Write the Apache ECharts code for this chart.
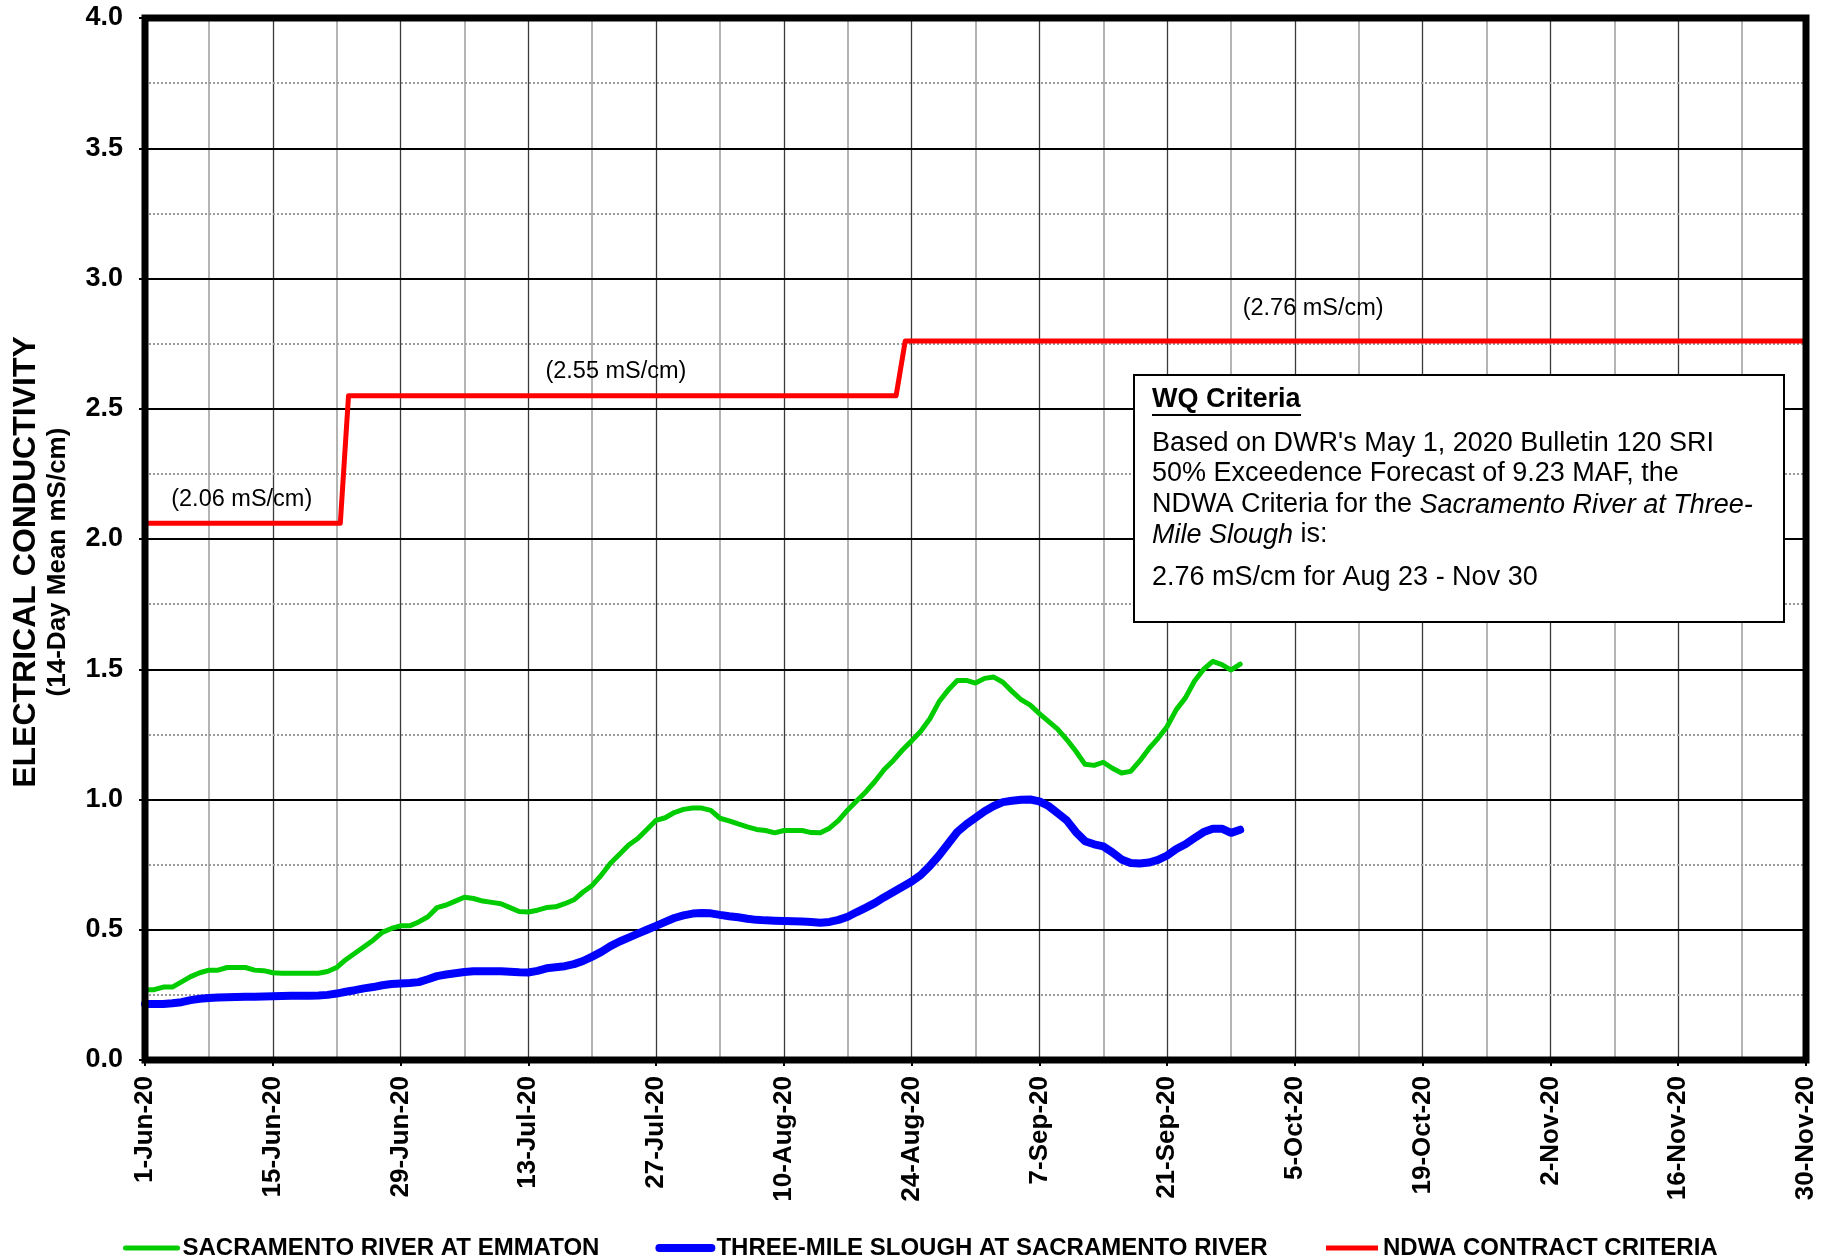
<!DOCTYPE html>
<html><head><meta charset="utf-8">
<script src="https://cdn.jsdelivr.net/npm/echarts@6/dist/echarts.min.js"></script>
<style>html,body{margin:0;padding:0;background:#fff}#c{width:1827px;height:1258px}</style>
</head><body><div id="c"></div>
<script>
// x axis: day number counted from 1-Jun-2020 (day 0) to 30-Nov-2020 (day 182)
const xTickLabels = ['1-Jun-20','15-Jun-20','29-Jun-20','13-Jul-20','27-Jul-20','10-Aug-20','24-Aug-20',
  '7-Sep-20','21-Sep-20','5-Oct-20','19-Oct-20','2-Nov-20','16-Nov-20','30-Nov-20'];
const yTickLabels = ['0.0','0.5','1.0','1.5','2.0','2.5','3.0','3.5','4.0'];

// daily 14-day mean EC (mS/cm), 1-Jun-20 .. 29-Sep-20
const emmaton = [
0.27,0.27,0.28,0.28,0.30,0.32,0.335,0.345,0.345,0.355,
0.355,0.355,0.345,0.343,0.335,0.333,0.333,0.333,0.333,0.333,
0.34,0.355,0.385,0.41,0.435,0.46,0.49,0.505,0.515,0.515,
0.53,0.55,0.585,0.595,0.61,0.625,0.62,0.61,0.605,0.60,
0.585,0.57,0.568,0.575,0.585,0.588,0.60,0.615,0.645,0.67,
0.71,0.755,0.79,0.825,0.85,0.885,0.92,0.93,0.95,0.962,
0.967,0.967,0.958,0.928,0.918,0.906,0.895,0.885,0.881,0.872,
0.881,0.881,0.881,0.873,0.872,0.89,0.92,0.96,0.995,1.03,
1.07,1.115,1.15,1.19,1.225,1.262,1.31,1.375,1.42,1.457,
1.457,1.447,1.465,1.47,1.45,1.415,1.383,1.362,1.33,1.30,
1.27,1.23,1.185,1.135,1.131,1.143,1.12,1.102,1.108,1.148,
1.195,1.235,1.28,1.345,1.39,1.455,1.50,1.53,1.518,1.497,
1.52];
const threeMile = [
0.215,0.215,0.215,0.218,0.222,0.23,0.235,0.238,0.24,0.241,
0.242,0.243,0.243,0.244,0.245,0.246,0.247,0.247,0.247,0.248,
0.25,0.255,0.262,0.268,0.275,0.28,0.287,0.292,0.294,0.296,
0.299,0.31,0.322,0.328,0.333,0.338,0.341,0.341,0.341,0.341,
0.339,0.337,0.336,0.342,0.352,0.356,0.36,0.368,0.38,0.397,
0.415,0.437,0.455,0.47,0.485,0.5,0.515,0.53,0.545,0.555,
0.562,0.564,0.563,0.557,0.552,0.548,0.542,0.538,0.536,0.535,
0.534,0.533,0.532,0.53,0.527,0.53,0.538,0.55,0.568,0.585,
0.603,0.625,0.645,0.665,0.685,0.71,0.745,0.785,0.83,0.875,
0.905,0.93,0.955,0.975,0.99,0.995,0.999,1.0,0.993,0.975,
0.948,0.92,0.875,0.84,0.828,0.82,0.797,0.77,0.756,0.754,
0.758,0.768,0.785,0.81,0.828,0.852,0.875,0.888,0.888,0.872,
0.884];
// NDWA contract criteria steps (day, value)
const criteriaDays = [0, 21.4, 22.3, 82.3, 83.3, 182];
const criteriaValues = [2.06, 2.06, 2.55, 2.55, 2.76, 2.76];

const seriesNames = ['SACRAMENTO RIVER AT EMMATON', 'THREE-MILE SLOUGH AT SACRAMENTO RIVER', 'NDWA CONTRACT CRITERIA'];

const F = "'Liberation Sans', Arial, Helvetica, sans-serif";
const chart = echarts.init(document.getElementById('c'), null, {renderer: 'canvas'});

const option = {
  animation: false,
  backgroundColor: '#fff',
  grid: {left: 145, right: 21, top: 18, bottom: 198, show: true, borderColor: '#000', borderWidth: 7, z: 10},
  xAxis: [{
    type: 'value', min: 0, max: 182, interval: 14, position: 'bottom',
    axisLine: {show: false},
    axisTick: {show: true, length: 6, lineStyle: {color: '#000', width: 2}},
    axisLabel: {rotate: 90, margin: 16, color: '#000', fontFamily: F, fontWeight: 'bold', fontSize: 26,
      formatter: v => xTickLabels[Math.round(v / 14)] || ''},
    splitLine: {show: true, lineStyle: {color: '#3a3a3a', width: 1.3}},
    z: 1
  }, {
    type: 'value', min: 0, max: 182, interval: 7, position: 'bottom',
    axisLine: {show: false}, axisTick: {show: false}, axisLabel: {show: false},
    splitLine: {show: true, lineStyle: {color: ['rgba(0,0,0,0)', '#b4b4b4'], width: 2}},
    z: 0
  }],
  yAxis: {
    type: 'value', min: 0, max: 4, interval: 0.5,
    axisLine: {show: false},
    axisTick: {show: true, length: 6, lineStyle: {color: '#000', width: 2}},
    axisLabel: {margin: 22, color: '#000', fontFamily: F, fontWeight: 'bold', fontSize: 27,
      formatter: v => yTickLabels[Math.round(v / 0.5)]},
    splitLine: {show: true, lineStyle: {color: '#000', width: 2}},
    minorTick: {show: false, splitNumber: 2},
    minorSplitLine: {show: true, lineStyle: {color: '#9a9a9a', width: 2, type: [2, 2]}},
    z: 2
  },
  legend: {
    left: 118, top: 1231, itemWidth: 52, itemHeight: 20, itemGap: 56,
    textStyle: {fontFamily: F, fontWeight: 'bold', fontSize: 24, color: '#000'},
    data: [
      {name: seriesNames[0], lineStyle: {width: 5}, itemStyle: {opacity: 0}},
      {name: seriesNames[1], lineStyle: {width: 8}, itemStyle: {opacity: 0}},
      {name: seriesNames[2], lineStyle: {width: 5}, itemStyle: {opacity: 0}}
    ]
  },
  series: [
    {
      name: seriesNames[2], type: 'line', symbol: 'none', z: 3,
      data: criteriaDays.map((d, i) => [d, criteriaValues[i]]),
      lineStyle: {color: '#ff0000', width: 5, join: 'round'},
      itemStyle: {color: '#ff0000'},
      markPoint: {
        symbol: 'circle', symbolSize: 0, silent: true,
        label: {show: true, position: 'inside', color: '#000', fontFamily: F, fontSize: 23.5},
        data: [
          {coord: [10.6, criteriaValues[0]], label: {formatter: '(2.06 mS/cm)', offset: [0, -24]}},
          {coord: [51.6, criteriaValues[2]], label: {formatter: '(2.55 mS/cm)', offset: [0, -24]}},
          {coord: [128, criteriaValues[4]], label: {formatter: '(2.76 mS/cm)', offset: [0, -33]}}
        ]
      }
    },
    {
      name: seriesNames[0], type: 'line', symbol: 'none', z: 4,
      data: emmaton.map((v, i) => [i, v]),
      lineStyle: {color: '#00cc00', width: 5, join: 'round', cap: 'round'},
      itemStyle: {color: '#00cc00'}
    },
    {
      name: seriesNames[1], type: 'line', symbol: 'none', z: 5,
      data: threeMile.map((v, i) => [i, v]),
      lineStyle: {color: '#0000ff', width: 8, join: 'round', cap: 'round'},
      itemStyle: {color: '#0000ff'}
    }
  ],
  graphic: [
    {type: 'text', x: 26, y: 562, rotation: Math.PI / 2, z: 50,
      style: {text: 'ELECTRICAL CONDUCTIVITY', font: "bold 32px " + F, fill: '#000', align: 'center', verticalAlign: 'middle'}},
    {type: 'text', x: 58, y: 562, rotation: Math.PI / 2, z: 50,
      style: {text: '(14-Day Mean mS/cm)', font: "bold 26px " + F, fill: '#000', align: 'center', verticalAlign: 'middle'}},
    {type: 'rect', z: 100, shape: {x: 1134, y: 375, width: 650, height: 247},
      style: {fill: '#fff', stroke: '#000', lineWidth: 2}},
    {type: 'text', z: 101, x: 1152, y: 400,
      style: {text: 'WQ Criteria', font: "bold 27px " + F, fill: '#000', verticalAlign: 'middle'}},
    {type: 'line', z: 101, shape: {x1: 1152, y1: 415, x2: 1301, y2: 415}, style: {stroke: '#000', lineWidth: 2}},
    {type: 'text', z: 101, x: 1152, y: 444,
      style: {text: "Based on DWR's May 1, 2020 Bulletin 120 SRI", font: "27px " + F, fill: '#000', verticalAlign: 'middle'}},
    {type: 'text', z: 101, x: 1152, y: 474,
      style: {text: "50% Exceedence Forecast of 9.23 MAF, the", font: "27px " + F, fill: '#000', verticalAlign: 'middle'}},
    {type: 'text', z: 101, x: 1152, y: 505,
      style: {text: "NDWA Criteria for the {i|Sacramento River at Three-}", font: "27px " + F, fill: '#000', verticalAlign: 'middle',
        rich: {i: {fontStyle: 'italic', fontFamily: F, fontSize: 27}}}},
    {type: 'text', z: 101, x: 1152, y: 535,
      style: {text: "{i|Mile Slough} is:", font: "27px " + F, fill: '#000', verticalAlign: 'middle',
        rich: {i: {fontStyle: 'italic', fontFamily: F, fontSize: 27}}}},
    {type: 'text', z: 101, x: 1152, y: 578,
      style: {text: "2.76 mS/cm for Aug 23 - Nov 30", font: "27px " + F, fill: '#000', verticalAlign: 'middle'}}
  ]
};
chart.setOption(option);
</script></body></html>
